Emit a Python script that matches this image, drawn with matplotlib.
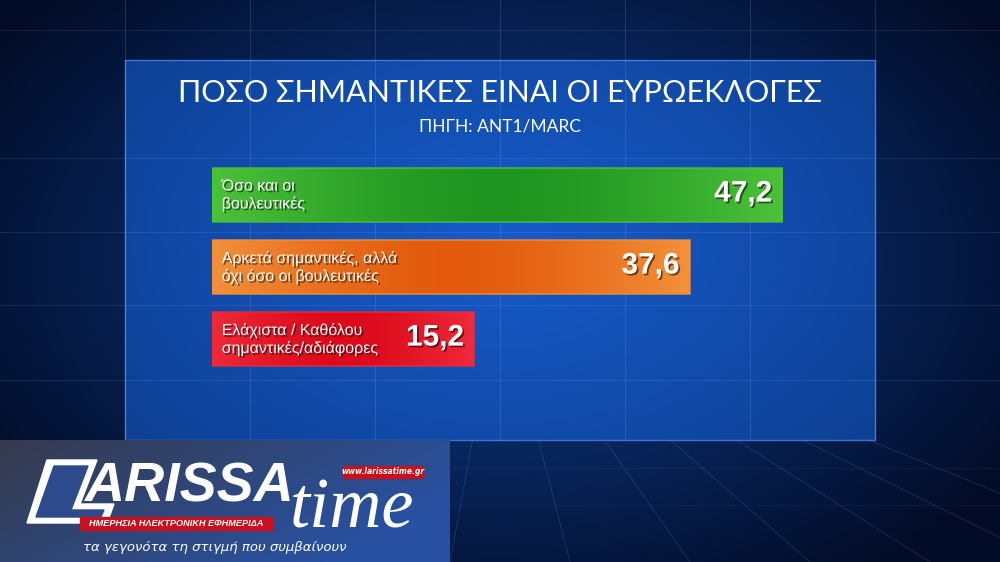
import numpy as np
import matplotlib.pyplot as plt
import matplotlib.patheffects as pe
from matplotlib.colors import to_rgb
from matplotlib.patches import Rectangle, Polygon

# survey data
categories = ['Όσο και οι\nβουλευτικές',
              'Αρκετά σημαντικές, αλλά\nόχι όσο οι βουλευτικές',
              'Ελάχιστα / Καθόλου\nσημαντικές/αδιάφορες']
values = [47.2, 37.6, 15.2]
value_labels = ['47,2', '37,6', '15,2']
title = 'ΠΟΣΟ ΣΗΜΑΝΤΙΚΕΣ ΕΙΝΑΙ ΟΙ ΕΥΡΩΕΚΛΟΓΕΣ'
source = 'ΠΗΓΗ: ANT1/MARC'

# bar colours: (edge, middle) of the horizontal gradient
bar_colors = [('#4cc23a', '#1f9420'), ('#f3913a', '#e35a0c'), ('#ef2a3a', '#dc0a1a')]
BASE = 12  # room for the text labels in front of the zero line

W, H = 1000, 562
fig = plt.figure(figsize=(W / 100, H / 100), dpi=100)

# ---- studio background ----
bg = fig.add_axes([0, 0, 1, 1])
bg.set_xlim(0, W)
bg.set_ylim(H, 0)
bg.axis('off')
yy, xx = np.mgrid[0:H, 0:W]
r = np.sqrt(((xx - 500) / 600) ** 2 + ((yy - 260) / 380) ** 2)
glow = np.clip(1 - r, 0, 1)
c0 = np.array([0.01, 0.05, 0.16])
c1 = np.array([0.05, 0.25, 0.58])
img = c0 + (c1 - c0) * glow[..., None]
bg.imshow(img, extent=(0, W, H, 0), aspect='auto', zorder=0)

# floor lines
for xb in range(-150, 1200, 120):
    bg.plot([500 + (xb - 500) * 0.55, xb], [440, H],
            color='#6f9be8', lw=0.6, alpha=0.22, zorder=1)
for yf in [468, 505]:
    bg.plot([0, W], [yf, yf], color='#6f9be8', lw=0.5, alpha=0.12, zorder=1)

# panel
px0, py0, px1, py1 = 125, 60, 875, 440
pyy, pxx = np.mgrid[py0:py1, px0:px1]
pr = np.sqrt(((pxx - 500) / 520) ** 2 + ((pyy - 240) / 340) ** 2)
pg = np.clip(1 - pr, 0, 1)
p0 = np.array([0.05, 0.24, 0.56])
p1 = np.array([0.09, 0.36, 0.80])
bg.imshow(p0 + (p1 - p0) * pg[..., None], extent=(px0, px1, py1, py0),
          aspect='auto', zorder=2)
bg.add_patch(Rectangle((px0, py0), px1 - px0, py1 - py0, fill=False,
                       ec='#4f86e6', lw=1.0, alpha=0.8, zorder=3))
for gx in range(125, 1000, 125):
    bg.plot([gx, gx], [0, 440], color='#9fc0ff', lw=0.6, alpha=0.2, zorder=3)
for gy in [30, 158, 232, 305, 380]:
    bg.plot([0, W], [gy, gy], color='#9fc0ff', lw=0.6, alpha=0.14, zorder=3)

shadow = [pe.withSimplePatchShadow(offset=(1.2, -1.2), shadow_rgbFace='black', alpha=0.55)]
bg.text(500, 93, title, color='white', fontsize=22, family='Lato',
        ha='center', va='center', zorder=5)
bg.text(500, 126, source, color='white', fontsize=12.5, family='Lato',
        ha='center', va='center', zorder=5)

# ---- bars ----
ax = fig.add_axes([0.212, 1 - 375 / H, 0.6, 216 / H])
ax.set_xlim(-BASE, -BASE + 600 / 9.63)
ax.set_ylim(2.5, -0.5)
ax.axis('off')
ypos = np.arange(len(values))
bars = ax.barh(ypos, [v + BASE for v in values], left=-BASE, height=0.75,
               color='none', edgecolor='none')
t = np.linspace(0, 1, 200)
prof = np.abs(t - 0.5) * 2
for b, (ce, cm) in zip(bars, bar_colors):
    ce = np.array(to_rgb(ce))
    cm = np.array(to_rgb(cm))
    grad = (cm + (ce - cm) * prof[:, None] ** 1.5)[None, :, :]
    x0, y0, w, h = b.get_x(), b.get_y(), b.get_width(), b.get_height()
    im = ax.imshow(grad, extent=(x0, x0 + w, y0 + h, y0), aspect='auto', zorder=2)
    im.set_clip_path(b)
    ax.add_patch(Rectangle((x0, y0), w, h, fill=False, ec=ce, lw=1.2, alpha=0.8, zorder=3))

for i, (lab, v, vl) in enumerate(zip(categories, values, value_labels)):
    ax.annotate(lab, xy=(-BASE, i), xytext=(7, 0), textcoords='offset points',
                ha='left', va='center', color='white', fontsize=11.5,
                family='Liberation Sans', linespacing=1.15, zorder=5,
                path_effects=shadow)
    ax.annotate(vl, xy=(v, i), xytext=(-7, 1), textcoords='offset points',
                ha='right', va='center', color='white', fontsize=21.5,
                family='Liberation Sans', fontweight='bold', zorder=5,
                path_effects=shadow)

# ---- watermark logo ----
lg = fig.add_axes([0, 0, 450 / W, 122 / H])
lg.set_xlim(0, 450)
lg.set_ylim(122, 0)
lg.axis('off')
gx = np.linspace(0, 1, 300)
gy = np.linspace(0, 1, 100)
G = np.clip(gx[None, :] * 0.8 + gy[:, None] * 0.4, 0, 1)
l0 = np.array([0.21, 0.23, 0.30])
l1 = np.array([0.16, 0.32, 0.64])
lg.imshow(l0 + (l1 - l0) * G[..., None], extent=(0, 450, 122, 0), aspect='auto')
lg.add_patch(Polygon([(47, 20), (97, 20), (80, 64), (114, 64), (107, 83), (27, 83)],
                     closed=True, color='white'))
lg.add_patch(Polygon([(54, 26), (88, 26), (71, 70), (104, 70), (101, 77), (36, 77)],
                     closed=True, color='#2c4a8c'))
lg.text(84, 47, 'ARISSA', color='white', fontsize=40, fontweight='bold',
        fontstyle='italic', family='Liberation Sans', ha='left', va='center')
lg.text(290, 88, 'time', color='white', fontsize=52, family='Liberation Serif',
        fontstyle='italic', ha='left', va='baseline')
lg.add_patch(Rectangle((343, 26), 80, 12, color='#c8101e'))
lg.text(383, 32, 'www.larissatime.gr', color='white', fontsize=5.5,
        fontweight='bold', fontstyle='italic', ha='center', va='center')
lg.add_patch(Rectangle((80, 77), 193, 13, color='#c8101e'))
lg.text(176, 83.5, 'ΗΜΕΡΗΣΙΑ ΗΛΕΚΤΡΟΝΙΚΗ ΕΦΗΜΕΡΙΔΑ', color='white', fontsize=6.6,
        fontweight='bold', fontstyle='italic', family='Liberation Sans',
        ha='center', va='center')
lg.text(215, 108, 'τα γεγονότα τη στιγμή που συμβαίνουν', color='white',
        fontsize=9.5, fontstyle='italic', ha='center', va='center')

fig.savefig('out.png', dpi=100)
